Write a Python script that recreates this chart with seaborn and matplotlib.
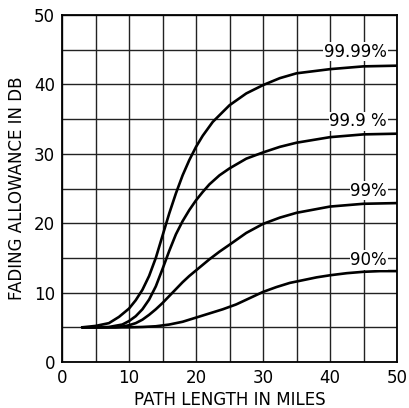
import numpy as np
import pandas as pd
import matplotlib
matplotlib.use("Agg")
import matplotlib.pyplot as plt
import seaborn as sns

# curve readings (path length in miles -> fading allowance in dB)
x_9999 = [3, 5, 7, 8.5, 10, 11, 12, 13, 14, 15, 16, 17, 18, 19, 20, 21, 22.5, 25, 27.5, 30, 32.5, 35, 40, 45, 50]
y_9999 = [5, 5.2, 5.6, 6.5, 7.7, 8.9, 10.4, 12.4, 15.0, 18.2, 21.4, 24.3, 26.9, 29.1, 31.0, 32.6, 34.6, 37, 38.7, 39.9, 40.9, 41.6, 42.2, 42.6, 42.7]

x_999 = [3, 5, 7, 9, 10, 11, 12, 13, 14, 15, 16, 17, 18, 19, 20, 21, 22, 23.5, 25, 27.5, 30, 32.5, 35, 40, 45, 50]
y_999 = [5, 5, 5.05, 5.4, 5.9, 6.6, 7.6, 9.0, 10.9, 13.4, 16.0, 18.4, 20.3, 21.9, 23.3, 24.5, 25.6, 26.9, 27.9, 29.3, 30.2, 31.0, 31.6, 32.4, 32.8, 32.9]

x_99 = [3, 5, 8, 9, 10, 11, 12, 13, 14, 15, 16, 17, 18, 19, 20, 21, 22, 23.5, 25, 27.5, 30, 32.5, 35, 40, 45, 50]
y_99 = [5, 5, 5, 5.1, 5.3, 5.6, 6.1, 6.8, 7.6, 8.5, 9.5, 10.5, 11.5, 12.4, 13.2, 14.0, 14.8, 15.9, 16.9, 18.6, 19.9, 20.8, 21.5, 22.4, 22.8, 22.9]

x_90 = [3, 5, 10, 12, 14, 16, 18, 20, 22, 24, 26, 28, 30, 32, 34, 36, 38, 40, 42.5, 45, 47.5, 50]
y_90 = [5, 5, 5, 5.05, 5.15, 5.4, 5.8, 6.4, 7.0, 7.6, 8.3, 9.2, 10.1, 10.8, 11.4, 11.8, 12.2, 12.5, 12.8, 13.0, 13.1, 13.1]

levels = ["99.99%", "99.9 %", "99%", "90%"]
label_y = [44.7, 34.7, 24.7, 14.7]

sns.set_style("white")
plt.rcParams['font.family'] = ['DejaVu Sans']
plt.rcParams['text.color'] = 'black'
plt.rcParams['axes.labelcolor'] = 'black'
plt.rcParams['xtick.color'] = 'black'
plt.rcParams['ytick.color'] = 'black'

fig = plt.figure(figsize=(4.09, 4.08), dpi=100)
ax = fig.add_axes([0.1516, 0.1127, 0.8191, 0.8505])

series = [(x_9999, y_9999), (x_999, y_999), (x_99, y_99), (x_90, y_90)]
for (xs, ys), name in zip(series, levels):
    df = pd.DataFrame({"miles": xs, "db": ys})
    sns.lineplot(data=df, x="miles", y="db", ax=ax, color="black",
                 linewidth=1.9, estimator=None, sort=False)

ax.set_xlim(0, 50)
ax.set_ylim(0, 50)
ax.set_xticks(range(0, 51, 10))
ax.set_yticks(range(0, 51, 10))
ax.set_xticks(range(0, 51, 5), minor=True)
ax.set_yticks(range(0, 51, 5), minor=True)
ax.grid(True, which="both", color="#222222", linewidth=1.0)
ax.set_axisbelow(True)
ax.tick_params(which="both", length=0, labelsize=12, pad=5)
for s in ax.spines.values():
    s.set_color("black")
    s.set_linewidth(1.3)

for name, yy in zip(levels, label_y):
    ax.text(48.5, yy, name, ha="right", va="center", fontsize=12,
            bbox=dict(facecolor="white", edgecolor="none", pad=0.5))

ax.set_xlabel("PATH LENGTH IN MILES", fontsize=12, labelpad=3)
ax.set_ylabel("FADING ALLOWANCE IN DB", fontsize=12, labelpad=6)

fig.savefig("out.png", dpi=100)
